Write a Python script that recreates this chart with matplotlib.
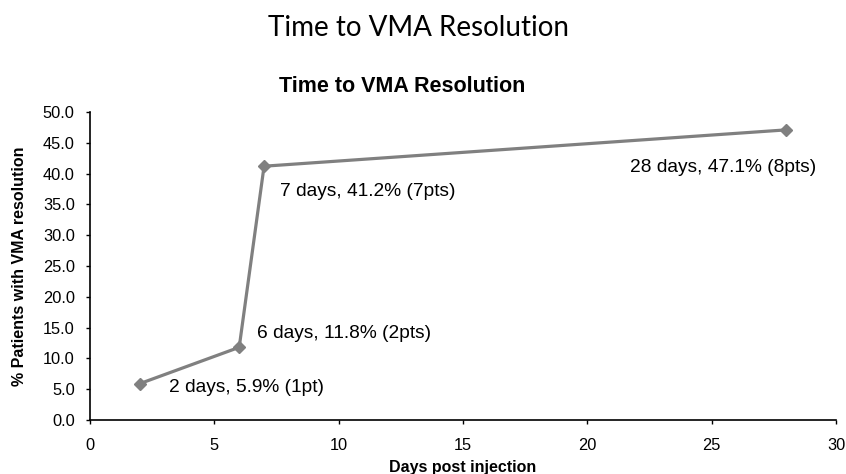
import numpy as np
import matplotlib
matplotlib.use('Agg')
import matplotlib.pyplot as plt

days = [2, 6, 7, 28]
pct = [5.9, 11.8, 41.2, 47.1]
labels = ['2 days, 5.9% (1pt)', '6 days, 11.8% (2pts)',
          '7 days, 41.2% (7pts)', '28 days, 47.1% (8pts)']
# label offsets in pixels (dx, dy) and horizontal alignment
offsets = [(29, -4, 'left'), (18, 14, 'left'), (16, -25, 'left'), (-63, -38, 'center')]

xticks = np.arange(0, 31, 5)
yticks = np.arange(0, 50.1, 5)

plt.rcParams['font.family'] = ['Liberation Sans', 'DejaVu Sans']

fig = plt.figure(figsize=(8.46, 4.74), dpi=100)
ax = fig.add_axes([90/846, 1 - 420/474, (836 - 90)/846, (420 - 112)/474])

ax.plot(days, pct, color='#808080', linewidth=2.3, marker='D', markersize=6.5,
        markerfacecolor='#808080', markeredgecolor='#808080', clip_on=False)

for x, y, lab, (dx, dy, ha) in zip(days, pct, labels, offsets):
    ax.annotate(lab, (x, y), xytext=(dx, dy), textcoords='offset pixels',
                ha=ha, va='center', fontsize=13.8, color='black')

ax.set_xlim(0, 30)
ax.set_ylim(0, 50)
ax.set_xticks(xticks)
ax.set_yticks(yticks)
ax.set_yticklabels(['%.1f' % v for v in yticks])
ax.tick_params(axis='both', direction='out', length=3, width=1, labelsize=11.8, pad=8)
ax.tick_params(axis='x', pad=10)

for s in ['top', 'right']:
    ax.spines[s].set_visible(False)
for s in ['left', 'bottom']:
    ax.spines[s].set_linewidth(1.2)

ax.set_xlabel('Days post injection', fontsize=11.5, fontweight='bold', labelpad=5)
ax.set_ylabel('% Patients with VMA resolution', fontsize=11.5, fontweight='bold', labelpad=11)

fig.text(418.5/846, 1 - 36/474, 'Time to VMA Resolution', ha='center', va='baseline',
         fontsize=20, family=['Lato', 'DejaVu Sans'])
fig.text(402.5/846, 1 - 92/474, 'Time to VMA Resolution', ha='center', va='baseline',
         fontsize=15.5, fontweight='bold')

fig.savefig('out.png', dpi=100)
